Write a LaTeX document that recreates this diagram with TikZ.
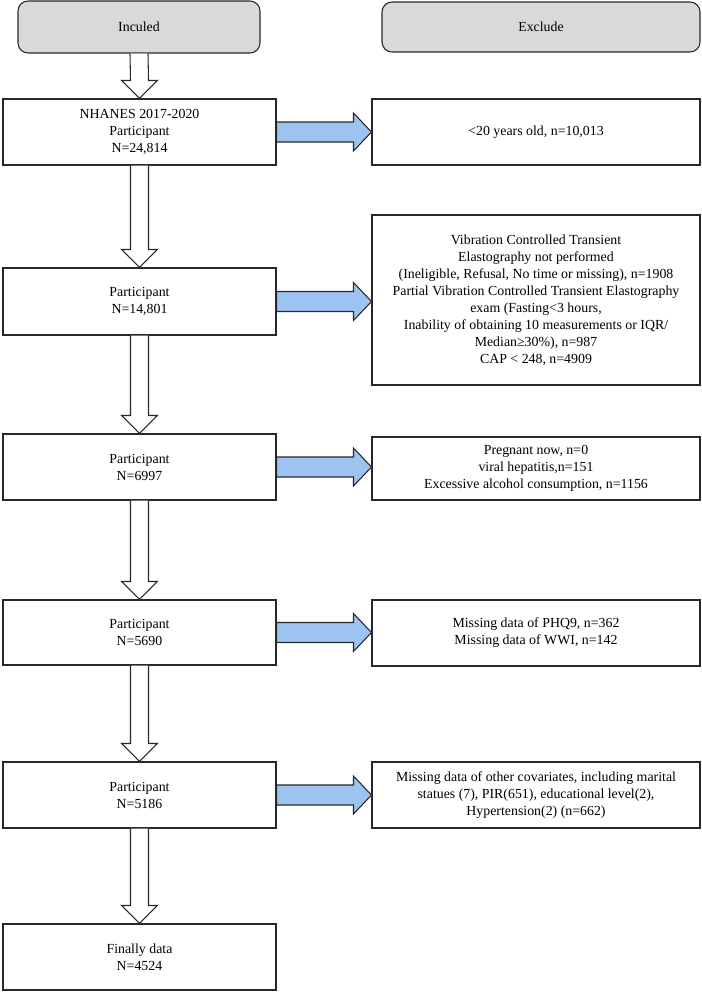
\documentclass[tikz,border=0pt]{standalone}
\usepackage{fontspec}
\setmainfont{Liberation Serif}
\usetikzlibrary{calc}
\definecolor{hdrgray}{RGB}{217,217,217}
\definecolor{arrblue}{RGB}{157,195,240}
\definecolor{edge}{RGB}{40,40,40}
\tikzset{
  base/.style={draw=edge, line width=0.8pt, align=center, inner sep=0pt,
     font=\fontsize{10.4}{12.75}\selectfont},
  hdr/.style={base, fill=hdrgray, rounded corners=7.5pt, minimum width=242*0.75pt, minimum height=52*0.75pt},
  hdrr/.style={base, fill=hdrgray, rounded corners=7.5pt, minimum width=318*0.75pt, minimum height=50*0.75pt},
  lbox/.style={base, fill=white, minimum width=273*0.75pt},
  rbox/.style={base, fill=white, minimum width=328*0.75pt},
  warrow/.style={draw=edge, line width=0.8pt, fill=white, line join=miter},
  barrow/.style={draw=edge, line width=0.8pt, fill=arrblue, line join=miter}
}
\newcommand\DArrow[2]{%
  \draw[warrow] ($(#1.south)+(-9,0)$) -- ($(#2.north)+(-9,-18)$) -- ($(#2.north)+(-18,-18)$)
    -- (#2.north) -- ($(#2.north)+(18,-18)$) -- ($(#2.north)+(9,-18)$) -- ($(#1.south)+(9,0)$);}
\newcommand\BArrow[2]{%
  \coordinate (tip) at (#2.west |- #1.east);
  \draw[barrow] ($(#1.east)+(0,-10)$) -- ($(tip)+(-18,-10)$) -- ($(tip)+(-18,-19)$)
    -- (tip) -- ($(tip)+(-18,19)$) -- ($(tip)+(-18,10)$) -- ($(#1.east)+(0,10)$) -- cycle;}
\begin{document}
\begin{tikzpicture}[x=0.75pt, y=-0.75pt]
\useasboundingbox (0,0) rectangle (702,992);
% headers
\node[hdr] (h1) at (139,27) {Inculed};
\node[hdrr] (h2) at (541,27) {Exclude};
% left boxes
\node[lbox, minimum height=66*0.75pt] (l1) at (139.5,132) {NHANES 2017-2020\\Participant\\N=24,814};
\node[lbox, minimum height=67*0.75pt] (l2) at (139.5,301.5) {Participant\\N=14,801};
\node[lbox, minimum height=66*0.75pt] (l3) at (139.5,467) {Participant\\N=6997};
\node[lbox, minimum height=65*0.75pt] (l4) at (139.5,632.5) {Participant\\N=5690};
\node[lbox, minimum height=66*0.75pt] (l5) at (139.5,795) {Participant\\N=5186};
\node[lbox, minimum height=66*0.75pt] (l6) at (139.5,957) {Finally data\\N=4524};
% right boxes
\node[rbox, minimum height=66*0.75pt] (r1) at (536,132) {<20 years old, n=10,013};
\node[rbox, minimum height=170*0.75pt] (r2) at (536,300) {Vibration Controlled Transient\\Elastography not performed\\ (Ineligible, Refusal, No time or missing), n=1908\\Partial Vibration Controlled Transient Elastography\\exam (Fasting<3 hours,\\Inability of obtaining 10 measurements or IQR/\\Median≥30\%), n=987\\CAP < 248, n=4909};
\node[rbox, minimum height=63*0.75pt] (r3) at (536,468.5) {Pregnant now, n=0\\viral hepatitis,n=151\\Excessive alcohol consumption, n=1156};
\node[rbox, minimum height=66*0.75pt] (r4) at (536,633) {Missing data of PHQ9, n=362\\Missing data of WWI, n=142};
\node[rbox, minimum height=66*0.75pt] (r5) at (536,795) {Missing data of other covariates, including marital\\statues (7), PIR(651), educational level(2),\\Hypertension(2) (n=662)};
% down arrows
\DArrow{h1}{l1}
\DArrow{l1}{l2}
\DArrow{l2}{l3}
\DArrow{l3}{l4}
\DArrow{l4}{l5}
\DArrow{l5}{l6}
% blue arrows
\BArrow{l1}{r1}
\BArrow{l2}{r2}
\BArrow{l3}{r3}
\BArrow{l4}{r4}
\BArrow{l5}{r5}
\end{tikzpicture}
\end{document}
